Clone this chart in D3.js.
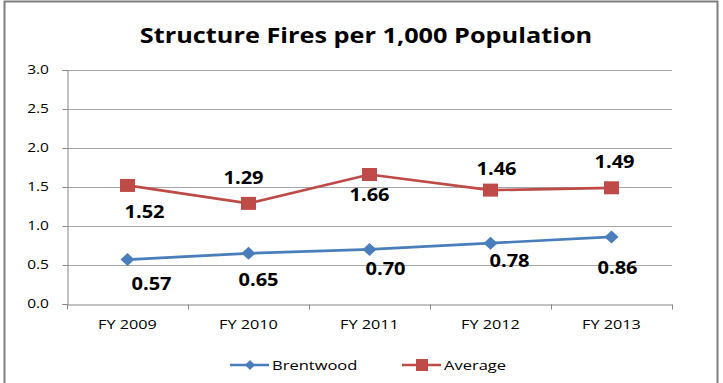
<!DOCTYPE html>
<html><head><meta charset="utf-8">
<script src="https://cdn.jsdelivr.net/npm/d3@7"></script>
<style>body{margin:0;background:#fff}svg{display:block}</style>
</head><body>
<script>
const categories = ["FY 2009","FY 2010","FY 2011","FY 2012","FY 2013"];
const brentwood = [0.57,0.65,0.70,0.78,0.86];
const average = [1.52,1.29,1.66,1.46,1.49];
const yTicks = [0,0.5,1.0,1.5,2.0,2.5,3.0];
const seriesNames = ["Brentwood","Average"];
// label offsets relative to their point (layout only)
const brentLabelOff = [[24,24],[10,27],[16,19],[19,18],[6,31]];
const avgLabelOff = [[17,26],[-5,-26],[0,20],[6,-21],[3,-26]];

const W=723,H=383;
const m={left:67,right:51,top:70,bottom:79};
const svg=d3.select("body").append("svg").attr("width",W).attr("height",H);
svg.append("rect").attr("x",0).attr("y",0).attr("width",W).attr("height",H).attr("fill","#fff");
svg.append("path").attr("d","M4.5,390 V1.5 H717.5 V390").attr("fill","none").attr("stroke","#7f7f7f").attr("stroke-width",2);

const x=d3.scaleBand().domain(categories).range([m.left,W-m.right]);
const y=d3.scaleLinear().domain([0,3]).range([H-m.bottom,m.top]);
const font="'Open Sans', 'DejaVu Sans', sans-serif";

// stretched text helper
function stext(g,X,Y,txt,o){
  const sx=o.sx||1;
  return g.append("text").attr("transform",`translate(${X},${Y}) scale(${sx},1)`)
    .attr("text-anchor",o.anchor||"middle").attr("dy",o.dy||0)
    .attr("font-family",font).attr("font-weight",o.bold?"bold":"normal").attr("font-size",o.size)
    .attr("fill","#000").text(txt);
}

stext(svg,366,43,"Structure Fires per 1,000 Population",{size:22,bold:true,sx:1.15});

// gridlines
svg.append("g").selectAll("line").data(yTicks.filter(d=>d>0)).join("line")
  .attr("x1",m.left).attr("x2",W-m.right).attr("y1",d=>Math.round(y(d))+0.5).attr("y2",d=>Math.round(y(d))+0.5)
  .attr("stroke","#a6a6a6").attr("stroke-width",1);

// y axis
const ya=svg.append("g").attr("transform",`translate(${m.left+0.5},0)`)
  .call(d3.axisLeft(y).tickValues(yTicks).tickFormat(d3.format(".1f")).tickSize(5));
ya.select(".domain").attr("stroke","#868686");
ya.selectAll(".tick line").attr("stroke","#868686");
ya.selectAll(".tick text").remove();
yTicks.forEach(t=>stext(svg,49,y(t),d3.format(".1f")(t),{size:12.5,sx:1.24,anchor:"end",dy:"0.35em"}));

// x axis
const xa=svg.append("g").attr("transform",`translate(0,${Math.round(y(0))+0.5})`)
  .call(d3.axisBottom(x).tickSize(0));
xa.select(".domain").attr("stroke","#868686");
xa.selectAll(".tick text").remove();
const edges=categories.map(c=>x(c)).concat([x(categories[categories.length-1])+x.bandwidth()]);
xa.selectAll(".edge").data(edges).join("line").attr("class","edge")
  .attr("x1",d=>Math.round(d)+0.5).attr("x2",d=>Math.round(d)+0.5).attr("y1",0).attr("y2",5).attr("stroke","#868686");
categories.forEach(c=>stext(svg,x(c)+x.bandwidth()/2,329,c,{size:12.5,sx:1.3}));

const cx=(d,i)=>x(categories[i])+x.bandwidth()/2;
const line=d3.line().x(cx).y(d=>y(d));
const blue="#4a7ebb", red="#be4b48";

svg.append("path").datum(brentwood).attr("d",line).attr("fill","none").attr("stroke",blue).attr("stroke-width",2.7);
svg.append("path").datum(average).attr("d",line).attr("fill","none").attr("stroke",red).attr("stroke-width",2.7);

const diamondPath=(w,h)=>`M0,${-h/2}L${w/2},0L0,${h/2}L${-w/2},0Z`;
svg.append("g").selectAll("path").data(brentwood).join("path")
  .attr("transform",(d,i)=>`translate(${cx(d,i)},${y(d)})`)
  .attr("d",diamondPath(14,13)).attr("fill",blue);
svg.append("g").selectAll("rect").data(average).join("rect")
  .attr("x",(d,i)=>cx(d,i)-7.5).attr("y",d=>y(d)-6.5).attr("width",15).attr("height",13).attr("fill",red);

// data labels
function labels(data,off){
  const g=svg.append("g");
  data.forEach((d,i)=>stext(g,cx(d,i)+off[i][0],y(d)+off[i][1],d.toFixed(2),{size:17,bold:true,sx:1.18,dy:"0.36em"}));
}
labels(brentwood,brentLabelOff);
labels(average,avgLabelOff);

// legend
const lg=svg.append("g");
const items=[{name:seriesNames[0],color:blue,x:230,sym:"d"},{name:seriesNames[1],color:red,x:402,sym:"s"}];
items.forEach(it=>{
  const ly=365;
  lg.append("line").attr("x1",it.x).attr("x2",it.x+39).attr("y1",ly).attr("y2",ly).attr("stroke",it.color).attr("stroke-width",2.7);
  if(it.sym==="d") lg.append("path").attr("transform",`translate(${it.x+20},${ly})`).attr("d",diamondPath(10,10)).attr("fill",it.color);
  else lg.append("rect").attr("x",it.x+14).attr("y",ly-6).attr("width",12).attr("height",12).attr("fill",it.color);
  stext(lg,it.x+42,ly,it.name,{size:13,sx:1.27,anchor:"start",dy:"0.36em"});
});
</script>
</body></html>
